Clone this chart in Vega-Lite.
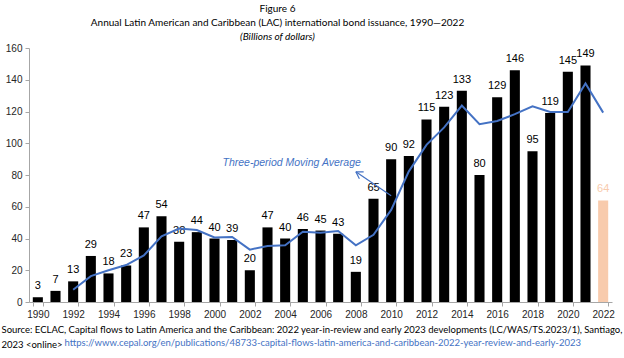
{
  "$schema": "https://vega.github.io/schema/vega-lite/v6.json",
  "autosize": "none",
  "width": 583,
  "height": 254,
  "padding": {"left": 29, "top": 48, "right": 12, "bottom": 56},
  "background": "white",
  "config": {"view": {"stroke": null}},
  "title": {
    "text": ["Figure 6", "Annual Latin American and Caribbean (LAC) international bond issuance, 1990—2022"],
    "subtitle": "(Billions of dollars)",
    "font": "Lato",
    "fontSize": 10,
    "fontWeight": "normal",
    "color": "#000000",
    "lineHeight": 14,
    "subtitleFont": "Lato",
    "subtitleFontSize": 10,
    "subtitleFontStyle": "italic",
    "subtitleColor": "#000000",
    "subtitlePadding": 4,
    "subtitleLineHeight": 12,
    "anchor": "middle",
    "frame": "group",
    "dx": -43,
    "offset": 1
  },
  "data": {
    "values": [
      {"year": "1990", "value": 3, "ma": null, "status": "actual"},
      {"year": "1991", "value": 7, "ma": null, "status": "actual"},
      {"year": "1992", "value": 13, "ma": 7.7, "status": "actual"},
      {"year": "1993", "value": 29, "ma": 16.3, "status": "actual"},
      {"year": "1994", "value": 18, "ma": 20, "status": "actual"},
      {"year": "1995", "value": 23, "ma": 23.3, "status": "actual"},
      {"year": "1996", "value": 47, "ma": 29.3, "status": "actual"},
      {"year": "1997", "value": 54, "ma": 41.3, "status": "actual"},
      {"year": "1998", "value": 38, "ma": 46.3, "status": "actual"},
      {"year": "1999", "value": 44, "ma": 45.3, "status": "actual"},
      {"year": "2000", "value": 40, "ma": 40.7, "status": "actual"},
      {"year": "2001", "value": 39, "ma": 41, "status": "actual"},
      {"year": "2002", "value": 20, "ma": 33, "status": "actual"},
      {"year": "2003", "value": 47, "ma": 35.3, "status": "actual"},
      {"year": "2004", "value": 40, "ma": 35.7, "status": "actual"},
      {"year": "2005", "value": 46, "ma": 44.3, "status": "actual"},
      {"year": "2006", "value": 45, "ma": 43.7, "status": "actual"},
      {"year": "2007", "value": 43, "ma": 44.7, "status": "actual"},
      {"year": "2008", "value": 19, "ma": 35.7, "status": "actual"},
      {"year": "2009", "value": 65, "ma": 42.3, "status": "actual"},
      {"year": "2010", "value": 90, "ma": 58, "status": "actual"},
      {"year": "2011", "value": 92, "ma": 82.3, "status": "actual"},
      {"year": "2012", "value": 115, "ma": 99, "status": "actual"},
      {"year": "2013", "value": 123, "ma": 110, "status": "actual"},
      {"year": "2014", "value": 133, "ma": 123.7, "status": "actual"},
      {"year": "2015", "value": 80, "ma": 112, "status": "actual"},
      {"year": "2016", "value": 129, "ma": 114, "status": "actual"},
      {"year": "2017", "value": 146, "ma": 118.3, "status": "actual"},
      {"year": "2018", "value": 95, "ma": 123.3, "status": "actual"},
      {"year": "2019", "value": 119, "ma": 119.7, "status": "actual"},
      {"year": "2020", "value": 145, "ma": 119.7, "status": "actual"},
      {"year": "2021", "value": 149, "ma": 137.7, "status": "actual"},
      {"year": "2022", "value": 64, "ma": 119.3, "status": "partial"}
    ]
  },
  "encoding": {
    "x": {
      "field": "year",
      "type": "ordinal",
      "scale": {"paddingInner": 0.43, "paddingOuter": 0.215},
      "axis": {
        "values": ["1990","1992","1994","1996","1998","2000","2002","2004","2006","2008","2010","2012","2014","2016","2018","2020","2022"],
        "labelAngle": 0,
        "labelOverlap": false,
        "labelFont": "Liberation Sans",
        "labelFontSize": 10,
        "labelColor": "#262626",
        "labelPadding": 3,
        "domainColor": "#A6A6A6",
        "tickColor": "#A6A6A6",
        "tickSize": 4,
        "tickBand": "extent",
        "title": ["Source: ECLAC, Capital flows to Latin America and the Caribbean: 2022 year-in-review and early 2023 developments (LC/WAS/TS.2023/1), Santiago,", "2023 <online>"],
        "titleFont": "Lato",
        "titleFontSize": 9.5,
        "titleFontWeight": "normal",
        "titleColor": "#000000",
        "titleAlign": "left",
        "titleAnchor": "start",
        "titleBaseline": "alphabetic",
        "titleLineHeight": 15,
        "titleX": -28,
        "titleY": 30
      }
    }
  },
  "layer": [
    {
      "mark": {"type": "bar"},
      "encoding": {
        "y": {
          "field": "value",
          "type": "quantitative",
          "scale": {"domain": [0, 160], "nice": false},
          "axis": {
            "values": [0, 20, 40, 60, 80, 100, 120, 140, 160],
            "tickCount": 9,
            "grid": false,
            "labelOverlap": false,
            "labelFont": "Liberation Sans",
            "labelFontSize": 10,
            "labelColor": "#262626",
            "labelPadding": 3,
            "domainColor": "#A6A6A6",
            "tickColor": "#A6A6A6",
            "tickSize": 4,
            "title": "https://www.cepal.org/en/publications/48733-capital-flows-latin-america-and-caribbean-2022-year-review-and-early-2023",
            "titleAngle": 0,
            "titleFont": "Lato",
            "titleFontSize": 9.5,
            "titleFontWeight": "normal",
            "titleColor": "#4472C4",
            "titleAlign": "left",
            "titleBaseline": "alphabetic",
            "titleX": 35,
            "titleY": 297
          }
        },
        "color": {
          "field": "status",
          "type": "nominal",
          "scale": {"domain": ["actual", "partial"], "range": ["#000000", "#F8CBAD"]},
          "legend": null
        }
      }
    },
    {
      "mark": {"type": "text", "dy": -11, "font": "Liberation Sans", "fontSize": 11},
      "encoding": {
        "y": {"field": "value", "type": "quantitative"},
        "text": {"field": "value", "type": "quantitative"},
        "color": {
          "field": "status",
          "type": "nominal",
          "scale": {"domain": ["actual", "partial"], "range": ["#1A1A1A", "#F4B183"]},
          "legend": null
        }
      }
    },
    {
      "mark": {"type": "line", "color": "#4472C4", "strokeWidth": 2},
      "encoding": {
        "y": {"field": "ma", "type": "quantitative"}
      }
    },
    {
      "transform": [{"filter": "datum.year == '2008'"}],
      "mark": {"type": "text", "text": "Three-period Moving Average", "font": "Liberation Sans", "fontSize": 10.5, "fontStyle": "italic", "fill": "#4472C4", "align": "right", "baseline": "middle", "dx": 5},
      "encoding": {
        "x": {"datum": "2008"},
        "y": {"datum": 87.6}
      }
    },
    {
      "transform": [{"filter": "datum.year == '2008'"}],
      "mark": {"type": "rule", "color": "#4472C4", "strokeWidth": 1.2},
      "encoding": {
        "x": {"datum": "2010", "bandPosition": 0.5},
        "x2": {"datum": "2008", "bandPosition": 0.5},
        "y": {"datum": 67},
        "y2": {"datum": 82}
      }
    },
    {
      "transform": [{"filter": "datum.year == '2008'"}],
      "mark": {"type": "point", "shape": "M0,0L1,-0.6M0,0L1,0.6", "filled": false, "stroke": "#4472C4", "strokeWidth": 1.2, "size": 180, "angle": 32, "opacity": 1},
      "encoding": {
        "x": {"datum": "2008"},
        "y": {"datum": 82}
      }
    }
  ]
}
